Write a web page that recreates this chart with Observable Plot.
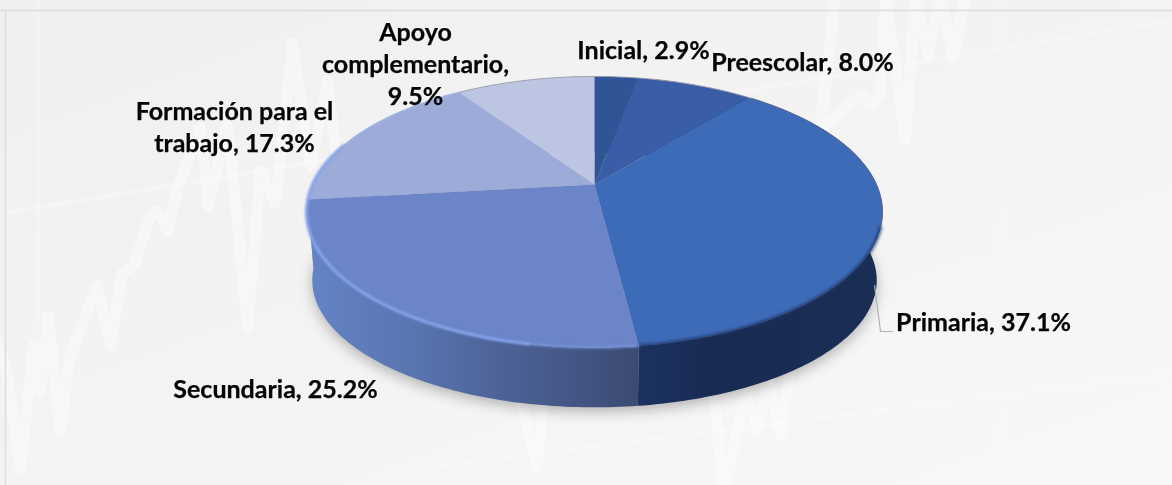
<!DOCTYPE html>
<html lang="es">
<head>
<meta charset="utf-8">
<script src="https://cdn.jsdelivr.net/npm/d3@7"></script>
<script src="https://cdn.jsdelivr.net/npm/@observablehq/plot@0.6"></script>
<style>
html,body{margin:0;padding:0;width:1172px;height:485px;overflow:hidden;
background:linear-gradient(160deg,#f0f0f1 0%,#f3f3f4 45%,#f8f8f8 100%);}
svg{display:block;background:transparent!important;}
</style>
</head>
<body>
<div id="chart"></div>
<script>
// Chart values
const categories = ["Inicial","Preescolar","Primaria","Secundaria","Formación para el trabajo","Apoyo complementario"];
const shares = [2.9, 8.0, 37.1, 25.2, 17.3, 9.5];
const faceColors = ["#2f5596","#3a5ea6","#3e6bb8","#6b85c8","#9cabd7","#bcc6e3"];
const labelTexts = ["Inicial, 2.9%","Preescolar, 8.0%","Primaria, 37.1%","Secundaria, 25.2%","Formación para el\ntrabajo, 17.3%","Apoyo\ncomplementario,\n9.5%"];
const labelX = [643, 802, 983, 275, 234, 415];
const labelY = [48, 60, 320, 387, 125, 62];

// Watermark series read from the background
const wmX = [-4,7,20,33,40,48,60,68,78,97,110,122,133,150,157,167,177,200,208,227,247,260,275,292,310,327,340,450,537,560,650,705,723,745,757,768,780,800,835,820,860,870,880,885,905,915,927,940,953,965];
const wmY = [340,375,468,345,390,315,432,362,332,285,345,272,265,215,210,230,187,127,205,120,327,170,203,43,165,80,190,120,467,200,120,300,495,390,430,380,435,300,-8,130,95,105,95,-8,140,-8,55,-8,58,-8];
const sheenX1 = [0, 420], sheenY1 = [213, 468], sheenX2 = [1172, 1172], sheenY2 = [20, 373];
const vBandX = [37, 1000];
const leaderX = [874, 880, 892], leaderY = [285, 331, 331];

// Perspective of the disc
const cx = 594, cy = 184, A = 282, B = 130, K = 0.203, depth = 70, shrinkX = 0.02, shrinkY = 0.063;
const pt = (deg, z = 0) => {
  const t = deg * Math.PI / 180, den = 1 + K * Math.cos(t);
  return {x: cx + A * Math.sin(t) / den * (1 - shrinkX * z), y: cy - B * Math.cos(t) / den * (1 - shrinkY * z) + depth * z};
};
const arc = (a, b, z = 0) => {
  const n = Math.max(2, Math.ceil(Math.abs(b - a))), out = [];
  for (let i = 0; i <= n; i++) out.push(pt(a + (b - a) * i / n, z));
  return out;
};
const cum = d3.cumsum(shares);
const angles = [0, ...cum].map(v => v * 3.6);
const face = i => [{x: cx, y: cy}, ...arc(angles[i], angles[i + 1])];
const wall = i => [...arc(angles[i], angles[i + 1]), ...arc(angles[i + 1], angles[i], 1)];

const defs = () => {
  const d = d3.create("svg:defs");
  const g = d.append("linearGradient").attr("id", "wallSec");
  [[0, "#6584c6"], [0.3, "#5a76b2"], [0.65, "#4a5f92"], [1, "#3b4a72"]].forEach(([o, c]) =>
    g.append("stop").attr("offset", o).attr("stop-color", c));
  const h = d.append("linearGradient").attr("id", "wallPri");
  [[0, "#1b3260"], [0.3, "#182b52"], [1, "#1a2e55"]].forEach(([o, c]) =>
    h.append("stop").attr("offset", o).attr("stop-color", c));
  return d.node();
};

const poly = (data, fill, extra = {}) => Plot.line(data, {x: "x", y: "y", fill, stroke: "none", curve: "linear", ...extra});
const rim = (a, b, stroke, strokeWidth, blur, strokeOpacity = 1) =>
  Plot.line(arc(a, b), {x: "x", y: "y", stroke, strokeWidth, strokeOpacity, imageFilter: `blur(${blur}px)`, strokeLinecap: "round"});

const chart = Plot.plot({
  width: 1172, height: 485, margin: 0,
  x: {domain: [0, 1172], range: [0, 1172], axis: null},
  y: {domain: [0, 485], range: [0, 485], axis: null},
  marks: [
    defs,
    Plot.link(sheenX1, {x1: d => d, y1: (d, i) => sheenY1[i], x2: (d, i) => sheenX2[i], y2: (d, i) => sheenY2[i], stroke: "#fff", strokeWidth: 4, strokeOpacity: 0.22}),
    Plot.ruleX(vBandX, {stroke: "#fff", strokeWidth: 5, strokeOpacity: 0.15}),
    Plot.line(wmX.map((x, i) => ({x, y: wmY[i]})), {x: "x", y: "y", stroke: "#fff", strokeWidth: 11, strokeOpacity: 0.38, strokeLinejoin: "round", strokeLinecap: "round", curve: "linear"}),
    Plot.ruleY([10], {stroke: "#dcdcdc", strokeWidth: 1.5}),
    Plot.ruleX([5], {y1: 10, y2: 485, stroke: "#dcdcdc", strokeWidth: 1.5}),
    // drop shadow
    poly(arc(0, 360, 1.07), "#000", {fillOpacity: 0.28, imageFilter: "blur(7px)"}),
    // side walls
    poly(wall(5), "#8d9fd0"), poly(wall(4), "#7f94cc"),
    poly(wall(0), "#182b52"), poly(wall(1), "#182b52"),
    poly(wall(2), "url(#wallPri)"),
    poly(wall(3), "url(#wallSec)"),
    // top faces
    ...categories.map((c, i) => poly(face(i), faceColors[i])),
    // bevel on the rim
    rim(108, angles[3], "#1c3260", 3, 1.5, 0.85),
    rim(angles[3], angles[3] + 18, "#7d9be0", 2.5, 1.2, 0.7),
    rim(angles[3] + 18, angles[4] + 25, "#86a5ee", 3, 1),
    rim(angles[4] + 25, angles[5], "#a3b5e6", 1.5, 0.6),
    rim(angles[5], 400, "#a0a3ad", 1, 0.4),
    rim(40, 108, "#606a82", 1, 0.5),
    // leader of the Primaria label
    Plot.line(leaderX.map((x, i) => ({x, y: leaderY[i]})), {x: "x", y: "y", stroke: "#b0b0b0", strokeWidth: 1.2}),
    Plot.text(labelTexts, {
      x: (d, i) => labelX[i], y: (d, i) => labelY[i], text: d => d,
      fontFamily: "Lato", fontWeight: 700, fontSize: 25, fill: "#050505", stroke: "#050505", strokeWidth: 0.25,
      textAnchor: "middle", lineAnchor: "middle", lineHeight: 1.28, imageFilter: "blur(0.3px)"
    })
  ]
});
document.getElementById("chart").append(chart);
</script>
</body>
</html>
